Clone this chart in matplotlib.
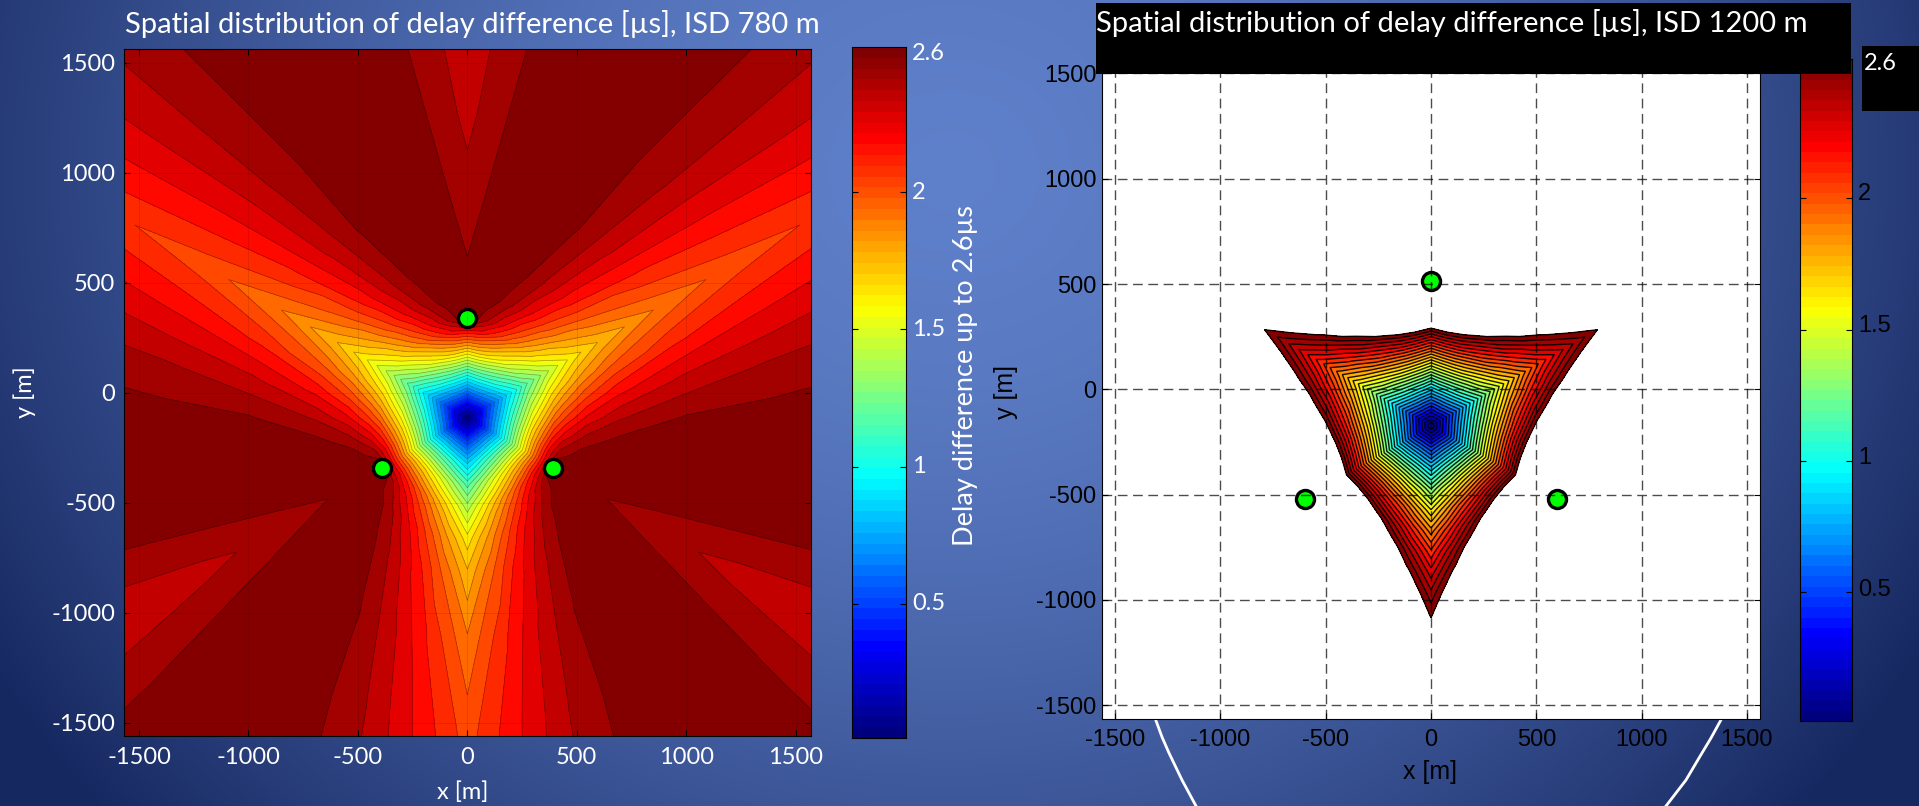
import numpy as np
import matplotlib
matplotlib.use('Agg')
import matplotlib.pyplot as plt
from matplotlib.colors import LinearSegmentedColormap
from matplotlib.patches import Rectangle

plt.rcParams['axes.unicode_minus'] = False

W, H = 1919, 806

# estimated delay values [us], one sector between a valley (col 0) and a site ray (last col)
sector_angles = [0, 10, 20, 30, 40, 50, 60]

radii_780 = [0, 100, 200, 300, 400, 450, 550, 700, 1000, 1400, 1900, 2500]
delay_780 = [
    [0.00, 0.00, 0.00, 0.00, 0.00, 0.00, 0.00],
    [0.47, 0.52, 0.55, 0.57, 0.58, 0.56, 0.52],
    [0.87, 0.97, 1.06, 1.12, 1.15, 1.14, 1.09],
    [1.18, 1.34, 1.49, 1.61, 1.70, 1.73, 1.68],
    [1.41, 1.62, 1.81, 1.99, 2.15, 2.27, 2.29],
    [1.50, 1.72, 1.93, 2.12, 2.30, 2.46, 2.60],
    [1.66, 1.88, 2.10, 2.30, 2.47, 2.58, 2.56],
    [1.80, 2.03, 2.25, 2.43, 2.56, 2.60, 2.525],
    [1.96, 2.18, 2.38, 2.53, 2.59, 2.58, 2.47],
    [2.07, 2.27, 2.45, 2.56, 2.60, 2.55, 2.41],
    [2.13, 2.33, 2.49, 2.58, 2.59, 2.52, 2.37],
    [2.17, 2.36, 2.51, 2.59, 2.59, 2.51, 2.34],
]

# values over 2.6 are not drawn, they only place the edge of the filled area
radii_1200 = [0, 100, 200, 300, 400, 500, 600, 700, 800, 912, 1100, 2600]
delay_1200 = [
    [0.00, 0.00, 0.00, 0.00, 0.00, 0.00, 0.00],
    [0.48, 0.53, 0.56, 0.58, 0.57, 0.55, 0.52],
    [0.92, 1.02, 1.10, 1.14, 1.15, 1.13, 1.06],
    [1.30, 1.47, 1.59, 1.69, 1.73, 1.71, 1.63],
    [1.63, 1.85, 2.05, 2.19, 2.29, 2.30, 2.22],
    [1.91, 2.18, 2.43, 2.64, 2.81, 2.89, 2.82],
    [2.14, 2.45, 2.74, 3.01, 3.24, 3.43, 3.43],
    [2.32, 2.66, 2.98, 3.28, 3.60, 3.90, 3.98],
    [2.47, 2.83, 3.17, 3.50, 3.70, 3.90, 3.90],
    [2.60, 2.95, 3.30, 3.60, 3.80, 3.80, 3.80],
    [2.75, 3.10, 3.40, 3.60, 3.70, 3.70, 3.60],
    [3.20, 3.40, 3.50, 3.60, 3.60, 3.50, 3.40],
]

center_780 = (0, -115)
center_1200 = (0, -173)
sites_780_x = [0, -390, 390]
sites_780_y = [340, -340, -340]
sites_1200_x = [0, -600, 600]
sites_1200_y = [515, -520, -520]

ticks_xy = [-1500, -1000, -500, 0, 500, 1000, 1500]
ticks_cbar = [0.5, 1, 1.5, 2]
cbar_labels = ['0.5', '1', '1.5', '2']

title_780 = 'Spatial distribution of delay difference [µs], ISD 780 m'
title_1200 = 'Spatial distribution of delay difference [µs], ISD 1200 m'

# decoration arcs of the slide, in pixels
arc_left_x = [1148, 1155, 1162, 1169, 1182, 1196]
arc_left_y = [700, 718, 737, 753, 780, 806]
arc_right_x = [1730, 1722, 1711, 1699, 1686, 1666]
arc_right_y = [700, 718, 738, 758, 780, 806]

jet = LinearSegmentedColormap.from_list('matlab_jet', [
    (0, (0, 0, 0.5)), (0.125, (0, 0, 1)), (0.375, (0, 1, 1)),
    (0.625, (1, 1, 0)), (0.875, (1, 0, 0)), (1, (0.5, 0, 0))], N=256)
CMIN, CMAX = 0.01, 2.53


def px_axes(left, top, right, bottom, **kw):
    return fig.add_axes([left / W, 1 - bottom / H, (right - left) / W, (bottom - top) / H], **kw)


def px_text(x, y, s, **kw):
    kw.setdefault('zorder', 6)
    return fig.text(x / W, 1 - y / H, s, **kw)


def expand_field(radii, table, center):
    # one sector goes round the circle, mirrored and repeated three times
    table = np.array(table)
    cols = list(range(7)) + list(range(5, -1, -1))
    cols = cols + cols[1:] + cols[1:]
    angles = np.radians(np.arange(len(cols)) * 10)
    r, a = np.meshgrid(radii, angles, indexing='ij')
    return center[0] + r * np.sin(a), center[1] - r * np.cos(a), table[:, cols]


def draw_field(ax, radii, table, center, levels, line_kw):
    X, Y, Z = expand_field(radii, table, center)
    colors = [jet((l - CMIN) / (CMAX - CMIN)) for l in levels[:-1]]
    ax.contourf(X, Y, Z, levels=levels, colors=colors)
    ax.contour(X, Y, Z, levels=levels, **line_kw)


def draw_cbar(left, top, right, bottom):
    cax = px_axes(left, top, right, bottom)
    cax.imshow(np.linspace(1, 0, 64).reshape(-1, 1), cmap=jet, aspect='auto',
               extent=[0, 1, CMIN, CMAX], interpolation='nearest')
    cax.set_xticks([])
    cax.set_yticks(ticks_cbar)
    cax.set_yticklabels([])
    cax.tick_params(axis='y', left=True, right=True, direction='in', length=4.5, color='k')
    for s in cax.spines.values():
        s.set_color('k')
    return cax


fig = plt.figure(figsize=(W / 100, H / 100), dpi=100)

# slide background
bg = fig.add_axes([0, 0, 1, 1])
yy, xx = np.mgrid[0:H, 0:W]
t = np.clip(np.hypot((xx - 950) / 1100, (yy - 170) / 1000), 0, 1)[..., None] ** 1.7
bg.imshow((1 - t) * np.array([0.37, 0.50, 0.79]) + t * np.array([0.09, 0.16, 0.38]), aspect='auto',
          extent=[0, W, H, 0])
bg.plot(arc_left_x, arc_left_y, color='white', lw=2)
bg.plot(arc_right_x, arc_right_y, color='white', lw=2)
bg.set_xlim(0, W)
bg.set_ylim(H, 0)
bg.axis('off')

# left panel
ax1 = px_axes(123.7, 49.4, 811, 736)
draw_field(ax1, radii_780, delay_780, center_780, np.append(np.arange(33) * 2.6 / 32, 2.7),
           dict(colors='k', linewidths=0.5, alpha=0.35))
ax1.plot(sites_780_x, sites_780_y, 'o', ms=13, mfc=(0, 1, 0), mec='k', mew=2.4, ls='none')
ax1.set_xlim(-1570, 1570)
ax1.set_ylim(-1560, 1560)
ax1.set_xticks(ticks_xy)
ax1.set_yticks(ticks_xy)
ax1.grid(True, color='k', lw=0.6, alpha=0.12)
ax1.set_axisbelow(False)
ax1.tick_params(direction='in', top=True, right=True, length=4.5, color='k', labelcolor='white', labelsize=17)
ax1.tick_params(axis='x', pad=8)
ax1.tick_params(axis='y', pad=6)
for lab in ax1.get_xticklabels() + ax1.get_yticklabels():
    lab.set_fontfamily('Lato')

# right panel
ax2 = px_axes(1102, 59.7, 1760, 719, facecolor='white')
draw_field(ax2, radii_1200, delay_1200, center_1200, np.arange(33) * 2.6 / 32,
           dict(colors='k', linewidths=1, alpha=0.9))
ax2.plot(sites_1200_x, sites_1200_y, 'o', ms=13, mfc=(0, 1, 0), mec='k', mew=2.4, ls='none')
ax2.set_xlim(-1562, 1562)
ax2.set_ylim(-1565, 1565)
ax2.set_xticks(ticks_xy)
ax2.set_yticks(ticks_xy)
ax2.grid(True, color='k', lw=1, ls=(0, (7, 4)), alpha=0.7)
ax2.set_axisbelow(False)
ax2.tick_params(direction='in', top=True, right=True, length=4.5, color='k', labelcolor='k', labelsize=17)
ax2.tick_params(axis='x', pad=7)
ax2.tick_params(axis='y', pad=4)
for lab in ax2.get_xticklabels() + ax2.get_yticklabels():
    lab.set_fontfamily('Liberation Sans')

# colorbars
draw_cbar(852, 47, 906, 738)
for v, lab in zip(ticks_cbar, cbar_labels):
    px_text(912, 741 - v * 274.4, lab, color='white', fontsize=17, family='Lato', va='center')
px_text(912, 54, '2.6', color='white', fontsize=17, family='Lato', va='center')

draw_cbar(1800, 59, 1852, 721)
for v, lab in zip(ticks_cbar, cbar_labels):
    px_text(1858, 722 - v * 264, lab, color='k', fontsize=17, family='Liberation Sans', va='center')

# black boxes laid over the right panel
fig.add_artist(Rectangle((1096 / W, 1 - 73.7 / H), 755 / W, 70.7 / H, transform=fig.transFigure,
                         facecolor='k', edgecolor='none', zorder=5))
fig.add_artist(Rectangle((1862 / W, 1 - 111 / H), 57 / W, 65 / H, transform=fig.transFigure,
                         facecolor='k', edgecolor='none', zorder=5))
px_text(1864, 63, '2.6', color='white', fontsize=17, family='Lato', va='center')

# titles and axis labels
px_text(125, 24, title_780, color='white', fontsize=21, family='Lato', va='center')
px_text(1096, 23, title_1200, color='white', fontsize=21, family='Lato', va='center')
px_text(966, 376, 'Delay difference up to 2.6µs', color='white', fontsize=19.5, family='Lato',
        rotation=90, va='center', ha='center')
px_text(25, 392, 'y [m]', color='white', fontsize=17, family='Lato', rotation=90, va='center', ha='center')
px_text(463, 792, 'x [m]', color='white', fontsize=17, family='Lato', va='center', ha='center')
px_text(1006, 392, 'y [m]', color='k', fontsize=18, family='Liberation Sans', rotation=90, va='center', ha='center')
px_text(1430, 772, 'x [m]', color='k', fontsize=18, family='Liberation Sans', va='center', ha='center')

fig.savefig('out.png', dpi=100)
